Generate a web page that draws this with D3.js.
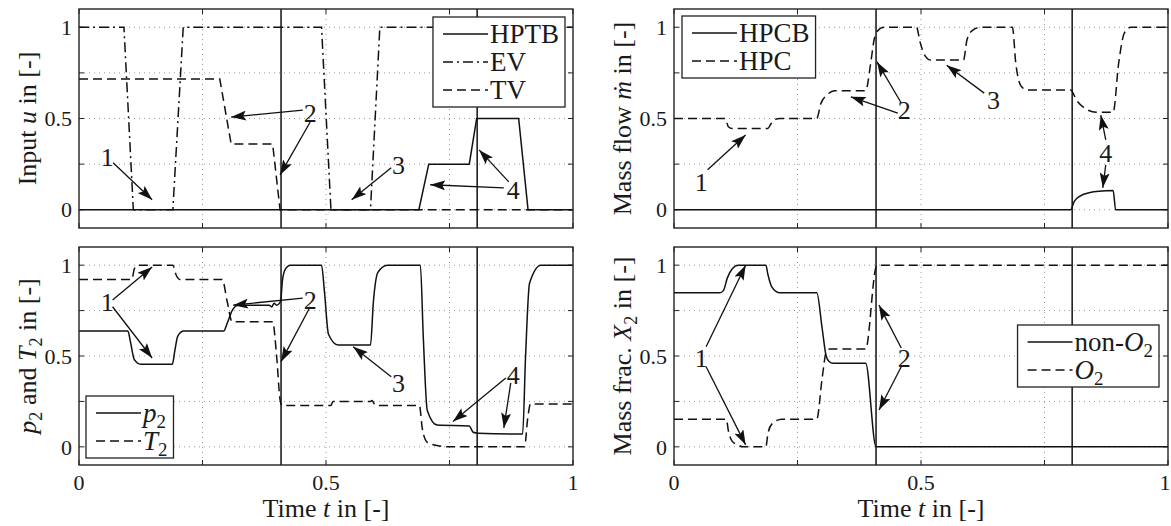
<!DOCTYPE html>
<html lang="en">
<head>
<meta charset="utf-8">
<title>Inputs and states</title>
<script src="https://d3js.org/d3.v7.min.js"></script>
<style>
  body { margin: 0; background: #fff; }
  svg { display: block; background: #fff; }
  svg text { font-family: "Liberation Serif", "DejaVu Serif", "Noto Serif", "Times New Roman", serif; fill: #1a1a1a; }
</style>
</head>
<body>
<script>
// ---- data ----
// vertical event lines
var events = [0.409, 0.806];
var gridTicks = [0, 0.25, 0.5, 0.75, 1];
var tickLabels = [0, 0.5, 1];

// panel 1 : input u
var t_hptb = [0, 0.688, 0.708, 0.790, 0.805, 0.890, 0.909, 1];
var u_hptb = [0, 0, 0.25, 0.25, 0.5, 0.5, 0, 0];
var t_ev = [0, 0.091, 0.110, 0.190, 0.211, 0.491, 0.510, 0.590, 0.609, 1];
var u_ev = [1, 1, 0, 0, 1, 1, 0, 0, 1, 1];
var t_tv = [0, 0.285, 0.308, 0.392, 0.407, 1];
var u_tv = [0.716, 0.716, 0.36, 0.36, 0, 0];

// panel 2 : mass flow
var t_hpcb = [0, 0.803, 0.810, 0.822, 0.840, 0.860, 0.889, 0.894, 1];
var m_hpcb = [0, 0, 0.045, 0.075, 0.093, 0.102, 0.105, 0, 0];
var t_hpc = [0, 0.104, 0.110, 0.118, 0.190, 0.196, 0.205, 0.215, 0.289, 0.297, 0.310, 0.325, 0.388,
  0.398, 0.405, 0.412, 0.425, 0.491, 0.498, 0.508, 0.520, 0.586, 0.593, 0.603, 0.620, 0.685, 0.692,
  0.702, 0.715, 0.803, 0.815, 0.835, 0.855, 0.889, 0.900, 0.912, 0.925, 1];
var m_hpc = [0.5, 0.5, 0.455, 0.445, 0.445, 0.47, 0.495, 0.5, 0.5, 0.58, 0.63, 0.652, 0.652,
  0.8, 0.93, 0.98, 1, 1, 0.92, 0.845, 0.82, 0.82, 0.93, 0.98, 1, 1, 0.8, 0.68, 0.656,
  0.656, 0.6, 0.55, 0.534, 0.534, 0.8, 0.97, 1, 1];

// panel 3 : p2 and T2
var t_p2 = [0, 0.099, 0.104, 0.112, 0.125, 0.189, 0.194, 0.200, 0.212, 0.293, 0.300, 0.310, 0.322,
  0.385, 0.390, 0.395, 0.400, 0.408, 0.412, 0.418, 0.428, 0.491, 0.497, 0.505, 0.525, 0.590, 0.596,
  0.605, 0.624, 0.691, 0.697, 0.705, 0.725, 0.790, 0.798, 0.808, 0.898, 0.904, 0.912, 0.935, 1];
var p2 = [0.637, 0.637, 0.58, 0.48, 0.455, 0.455, 0.53, 0.61, 0.637, 0.637, 0.68, 0.75, 0.78,
  0.78, 0.77, 0.79, 0.78, 0.80, 0.92, 0.98, 1, 1, 0.85, 0.62, 0.56, 0.56, 0.8,
  0.96, 1, 1, 0.6, 0.2, 0.12, 0.115, 0.08, 0.075, 0.07, 0.5, 0.9, 1, 1];
var t_T2 = [0, 0.107, 0.112, 0.120, 0.190, 0.196, 0.204, 0.290, 0.300, 0.310, 0.392, 0.400, 0.407,
  0.411, 0.510, 0.514, 0.590, 0.593, 0.598, 0.602, 0.689, 0.695, 0.705, 0.720, 0.750, 0.902, 0.908, 0.914, 1];
var T2 = [0.921, 0.921, 0.98, 1, 1, 0.95, 0.921, 0.921, 0.8, 0.689, 0.689, 0.5, 0.26,
  0.227, 0.227, 0.249, 0.249, 0.255, 0.235, 0.227, 0.227, 0.1, 0.025, 0.01, 0, 0, 0.15, 0.236, 0.236];

// panel 4 : mass fraction X2
var t_non = [0, 0.093, 0.100, 0.108, 0.118, 0.130, 0.186, 0.190, 0.198, 0.213, 0.289, 0.300, 0.308,
  0.314, 0.322, 0.388, 0.409, 0.412, 1];
var x_non = [0.848, 0.848, 0.86, 0.93, 0.98, 1, 1, 0.95, 0.88, 0.848, 0.848, 0.65, 0.5,
  0.47, 0.46, 0.46, 0, 0, 0];
var t_o2 = [0, 0.106, 0.110, 0.118, 0.130, 0.139, 0.186, 0.190, 0.198, 0.218, 0.289, 0.300, 0.308,
  0.315, 0.388, 0.409, 0.412, 1];
var x_o2 = [0.152, 0.152, 0.09, 0.03, 0.01, 0, 0, 0.07, 0.125, 0.152, 0.152, 0.38, 0.52,
  0.538, 0.538, 0.99, 1, 1];

// annotations: label [t, v] and arrows [t0, v0, t1, v1]
var notes1 = [
  {txt: "1", at: [0.057, 0.29], arrows: [[0.069, 0.257, 0.148, 0.055]]},
  {txt: "2", at: [0.468, 0.53], arrows: [[0.453, 0.546, 0.308, 0.508], [0.468, 0.481, 0.407, 0.191]]},
  {txt: "3", at: [0.647, 0.246], arrows: [[0.632, 0.23, 0.552, 0.055]]},
  {txt: "4", at: [0.879, 0.109], arrows: [[0.860, 0.12, 0.711, 0.137], [0.870, 0.153, 0.81, 0.328]]}
];
var notes2 = [
  {txt: "1", at: [0.055, 0.153], arrows: [[0.068, 0.219, 0.145, 0.41]]},
  {txt: "2", at: [0.466, 0.546], arrows: [[0.453, 0.53, 0.358, 0.619], [0.46, 0.585, 0.411, 0.81]]},
  {txt: "3", at: [0.647, 0.60], arrows: [[0.628, 0.639, 0.552, 0.792]]},
  {txt: "4", at: [0.874, 0.311], arrows: [[0.874, 0.383, 0.864, 0.519], [0.874, 0.246, 0.868, 0.12]]}
];
var notes3 = [
  {txt: "1", at: [0.057, 0.798], arrows: [[0.068, 0.808, 0.148, 0.99], [0.068, 0.771, 0.148, 0.489]]},
  {txt: "2", at: [0.468, 0.808], arrows: [[0.453, 0.819, 0.312, 0.78], [0.468, 0.771, 0.409, 0.469]]},
  {txt: "3", at: [0.647, 0.352], arrows: [[0.632, 0.386, 0.555, 0.551]]},
  {txt: "4", at: [0.879, 0.396], arrows: [[0.864, 0.379, 0.757, 0.139], [0.874, 0.352, 0.860, 0.104]]}
];
var notes4 = [
  {txt: "1", at: [0.055, 0.489], arrows: [[0.065, 0.551, 0.145, 1.0], [0.065, 0.441, 0.145, 0.011]]},
  {txt: "2", at: [0.466, 0.489], arrows: [[0.46, 0.544, 0.415, 0.78], [0.46, 0.441, 0.415, 0.203]]}
];

// ---- drawing ----
var W = 1171, H = 526;
var FONT = "'Liberation Serif', 'DejaVu Serif', 'Noto Serif', serif";
var svg = d3.select("body").append("svg").attr("width", W).attr("height", H)
  .attr("font-family", FONT);

svg.append("defs").append("marker")
  .attr("id", "head")
  .attr("markerUnits", "userSpaceOnUse")
  .attr("markerWidth", 16).attr("markerHeight", 10)
  .attr("refX", 15).attr("refY", 5)
  .attr("orient", "auto")
  .append("path")
  .attr("d", "M0,0 L15,5 L0,10 L3,5 Z")
  .attr("fill", "#111");

var styles = {
  solid: null,
  dash: "9,5",
  dashdot: "10,4,2,4"
};

function zip(ts, vs) { return ts.map(function (t, i) { return [t, vs[i]]; }); }

// label: array of parts {s, it, sub}
function richText(sel, parts) {
  var back = 0;
  parts.forEach(function (p) {
    var ts = sel.append("tspan").text(p.s);
    if (p.sub) {
      ts.attr("font-size", "0.7em").attr("dy", "0.32em");
      back = 1;
    } else {
      if (back) { ts.attr("dy", "-0.224em"); back = 0; }
      if (p.it) ts.attr("font-style", "italic");
    }
  });
}

function panel(cfg) {
  var x = d3.scaleLinear().domain([0, 1]).range([cfg.x0, cfg.x1]);
  var y = d3.scaleLinear().domain([-0.1, 1.1]).range([cfg.y1, cfg.y0]);
  var g = svg.append("g");
  var id = "clip" + cfg.id;
  svg.select("defs").append("clipPath").attr("id", id)
    .append("rect").attr("x", cfg.x0).attr("y", cfg.y0)
    .attr("width", cfg.x1 - cfg.x0).attr("height", cfg.y1 - cfg.y0);

  // grid
  g.selectAll(".gx").data(gridTicks.slice(1, -1)).join("line")
    .attr("x1", function (d) { return x(d); }).attr("x2", function (d) { return x(d); })
    .attr("y1", cfg.y0).attr("y2", cfg.y1)
    .attr("stroke", "#9a9a9a").attr("stroke-width", 1).attr("stroke-dasharray", "1,4");
  g.selectAll(".gy").data(gridTicks).join("line")
    .attr("y1", function (d) { return y(d); }).attr("y2", function (d) { return y(d); })
    .attr("x1", cfg.x0).attr("x2", cfg.x1)
    .attr("stroke", "#9a9a9a").attr("stroke-width", 1).attr("stroke-dasharray", "1,4");

  // ticks (inside, all four sides)
  var tl = 5;
  gridTicks.forEach(function (d) {
    [[x(d), cfg.y1, x(d), cfg.y1 - tl], [x(d), cfg.y0, x(d), cfg.y0 + tl],
     [cfg.x0, y(d), cfg.x0 + tl, y(d)], [cfg.x1, y(d), cfg.x1 - tl, y(d)]].forEach(function (s) {
      g.append("line").attr("x1", s[0]).attr("y1", s[1]).attr("x2", s[2]).attr("y2", s[3])
        .attr("stroke", "#222").attr("stroke-width", 1);
    });
  });

  // event lines
  g.selectAll(".ev").data(events).join("line")
    .attr("x1", function (d) { return x(d); }).attr("x2", function (d) { return x(d); })
    .attr("y1", cfg.y0).attr("y2", cfg.y1)
    .attr("stroke", "#111").attr("stroke-width", 1.5);

  // series
  var line = d3.line()
    .x(function (d) { return x(d[0]); })
    .y(function (d) { return y(d[1]); })
    .curve(cfg.smooth ? d3.curveMonotoneX : d3.curveLinear);
  var lg = g.append("g").attr("clip-path", "url(#" + id + ")");
  cfg.series.forEach(function (s) {
    lg.append("path").attr("d", line(zip(s.t, s.v)))
      .attr("fill", "none").attr("stroke", "#111").attr("stroke-width", 1.5)
      .attr("stroke-dasharray", styles[s.style]);
  });

  // box
  g.append("rect").attr("x", cfg.x0).attr("y", cfg.y0)
    .attr("width", cfg.x1 - cfg.x0).attr("height", cfg.y1 - cfg.y0)
    .attr("fill", "none").attr("stroke", "#222").attr("stroke-width", 1.4);

  // tick labels
  g.selectAll(".yl").data(tickLabels).join("text")
    .attr("x", cfg.x0 - 7).attr("y", function (d) { return y(d); })
    .attr("dy", "0.35em").attr("text-anchor", "end").attr("font-size", 22)
    .text(function (d) { return d; });
  if (cfg.xlabels) {
    g.selectAll(".xl").data(tickLabels).join("text")
      .attr("x", function (d) { return Math.min(x(d), W - 6); }).attr("y", cfg.y1 + 25)
      .attr("text-anchor", "middle").attr("font-size", 22)
      .text(function (d) { return d; });
    var xt = g.append("text").attr("x", (cfg.x0 + cfg.x1) / 2).attr("y", cfg.y1 + 52)
      .attr("text-anchor", "middle").attr("font-size", 26);
    richText(xt, [{s: "Time "}, {s: "t", it: true}, {s: " in [-]"}]);
  }

  // y title
  var yt = g.append("text")
    .attr("transform", "translate(" + (cfg.x0 - 52) + "," + ((cfg.y0 + cfg.y1) / 2) + ") rotate(-90)")
    .attr("text-anchor", "middle").attr("dy", "0.35em").attr("font-size", 26);
  richText(yt, cfg.ytitle);

  // annotations
  cfg.notes.forEach(function (n) {
    n.arrows.forEach(function (a) {
      g.append("line").attr("x1", x(a[0])).attr("y1", y(a[1]))
        .attr("x2", x(a[2])).attr("y2", y(a[3]))
        .attr("stroke", "#111").attr("stroke-width", 1.3)
        .attr("marker-end", "url(#head)");
    });
    g.append("text").attr("x", x(n.at[0])).attr("y", y(n.at[1]))
      .attr("dy", "0.35em").attr("text-anchor", "middle").attr("font-size", 26)
      .text(n.txt);
  });

  // legend
  var L = cfg.legend, rowH = 28, pad = 3, sample = 45;
  var lgd = g.append("g");
  var box = lgd.append("rect").attr("fill", "#fff").attr("stroke", "#222").attr("stroke-width", 1.3);
  var maxW = 0;
  cfg.series.forEach(function (s, i) {
    var cy = pad + rowH * (i + 0.5);
    lgd.append("line").attr("x1", 10).attr("x2", 10 + sample).attr("y1", cy).attr("y2", cy)
      .attr("stroke", "#111").attr("stroke-width", 1.5).attr("stroke-dasharray", styles[s.style]);
    var tx = lgd.append("text").attr("x", 12 + sample).attr("y", cy).attr("dy", "0.35em")
      .attr("font-size", 27);
    richText(tx, s.name);
    maxW = Math.max(maxW, tx.node().getComputedTextLength());
  });
  var bw = 12 + sample + maxW + 6, bh = pad * 2 + rowH * cfg.series.length;
  box.attr("width", bw).attr("height", bh);
  var lx = L.side === "right" ? cfg.x1 - L.dx - bw : cfg.x0 + L.dx;
  var ly = L.side2 === "bottom" ? cfg.y1 - L.dy - bh : cfg.y0 + L.dy;
  lgd.attr("transform", "translate(" + lx + "," + ly + ")");
}

panel({
  id: 1, x0: 79, x1: 573, y0: 9, y1: 228, smooth: false, xlabels: false,
  ytitle: [{s: "Input "}, {s: "u", it: true}, {s: " in [-]"}],
  series: [
    {t: t_hptb, v: u_hptb, style: "solid", name: [{s: "HPTB"}]},
    {t: t_ev, v: u_ev, style: "dashdot", name: [{s: "EV"}]},
    {t: t_tv, v: u_tv, style: "dash", name: [{s: "TV"}]}
  ],
  notes: notes1,
  legend: {side: "right", dx: 8, dy: 8}
});

panel({
  id: 2, x0: 674, x1: 1168, y0: 9, y1: 228, smooth: true, xlabels: false,
  ytitle: [{s: "Mass flow "}, {s: "\u1E41", it: true}, {s: " in [-]"}],
  series: [
    {t: t_hpcb, v: m_hpcb, style: "solid", name: [{s: "HPCB"}]},
    {t: t_hpc, v: m_hpc, style: "dash", name: [{s: "HPC"}]}
  ],
  notes: notes2,
  legend: {side: "left", dx: 8, dy: 7}
});

panel({
  id: 3, x0: 79, x1: 573, y0: 247, y1: 465, smooth: true, xlabels: true,
  ytitle: [{s: "p", it: true}, {s: "2", sub: true}, {s: " and "}, {s: "T", it: true}, {s: "2", sub: true}, {s: " in [-]"}],
  series: [
    {t: t_p2, v: p2, style: "solid", name: [{s: "p", it: true}, {s: "2", sub: true}]},
    {t: t_T2, v: T2, style: "dash", name: [{s: "T", it: true}, {s: "2", sub: true}]}
  ],
  notes: notes3,
  legend: {side: "left", side2: "bottom", dx: 7, dy: 7}
});

panel({
  id: 4, x0: 674, x1: 1168, y0: 247, y1: 465, smooth: true, xlabels: true,
  ytitle: [{s: "Mass frac. "}, {s: "X", it: true}, {s: "2", sub: true}, {s: " in [-]"}],
  series: [
    {t: t_non, v: x_non, style: "solid", name: [{s: "non-"}, {s: "O", it: true}, {s: "2", sub: true}]},
    {t: t_o2, v: x_o2, style: "dash", name: [{s: "O", it: true}, {s: "2", sub: true}]}
  ],
  notes: notes4,
  legend: {side: "right", dx: 9, dy: 78}
});
</script>
</body>
</html>
